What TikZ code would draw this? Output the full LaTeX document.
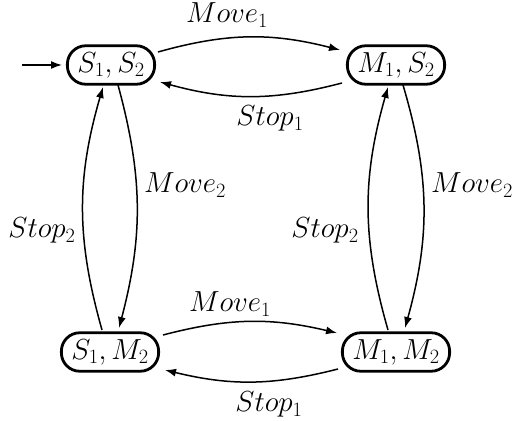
\RequirePackage{fix-cm}
\documentclass[tikz,border=0pt]{standalone}
\usetikzlibrary{arrows.meta,calc}
\begin{document}
\begin{tikzpicture}[x=1pt,y=1pt,
  font=\fontsize{29}{35}\selectfont,
  state/.style={draw,line width=2.8pt,rounded corners=18.5pt,minimum height=38.5pt,inner xsep=10pt,inner ysep=0pt},
  trans/.style={line width=1.5pt,-{Latex[length=11pt,width=8pt]}},
  lbl/.style={anchor=base,inner sep=0pt}]
\useasboundingbox (0,0) rectangle (515,421);
% states
\node[state] (s1s2) at (111,356) {$S_1,S_2$};
\node[state] (m1s2) at (396,356) {$M_1,S_2$};
\node[state] (s1m2) at (110,69) {$S_1,M_2$};
\node[state] (m1m2) at (396,69) {$M_1,M_2$};
% initial arrow
\coordinate (init) at (22,356);
\draw[trans] (init) -- ($(s1s2.center)+(-49,0)$);
% top
\draw[trans] ($(s1s2.center)+(47,13)$) to[bend left=15] ($(m1s2.center)+(-56,15)$);
\draw[trans] ($(m1s2.center)+(-54,-18)$) to[bend left=15] ($(s1s2.center)+(49,-17)$);
% bottom
\draw[trans] ($(s1m2.center)+(53,17)$) to[bend left=14] ($(m1m2.center)+(-59,19)$);
\draw[trans] ($(m1m2.center)+(-58,-17)$) to[bend left=14] ($(s1m2.center)+(55,-18)$);
% left
\draw[trans] ($(s1m2.center)+(-8,22)$) to[bend left=16] ($(s1s2.center)+(-8,-22)$);
\draw[trans] ($(s1s2.center)+(7,-20)$) to[bend left=15] ($(s1m2.center)+(9,24)$);
% right
\draw[trans] ($(m1m2.center)+(-8,22)$) to[bend left=16] ($(m1s2.center)+(-8,-22)$);
\draw[trans] ($(m1s2.center)+(7,-20)$) to[bend left=16] ($(m1m2.center)+(9,24)$);
% labels
\node[lbl] (lmt) at (227,398) {$Move_1$};
\node[lbl] (lst) at (270,295) {$Stop_1$};
\node[lbl] (lmb) at (230,109) {$Move_1$};
\node[lbl] (lsb) at (269,9) {$Stop_1$};
\node[lbl] (lsl) at (42,183) {$Stop_2$};
\node[lbl] (lml) at (185,228) {$Move_2$};
\node[lbl] (lsr) at (325,183) {$Stop_2$};
\node[lbl] (lmr) at (472,228) {$Move_2$};
\end{tikzpicture}
\end{document}
